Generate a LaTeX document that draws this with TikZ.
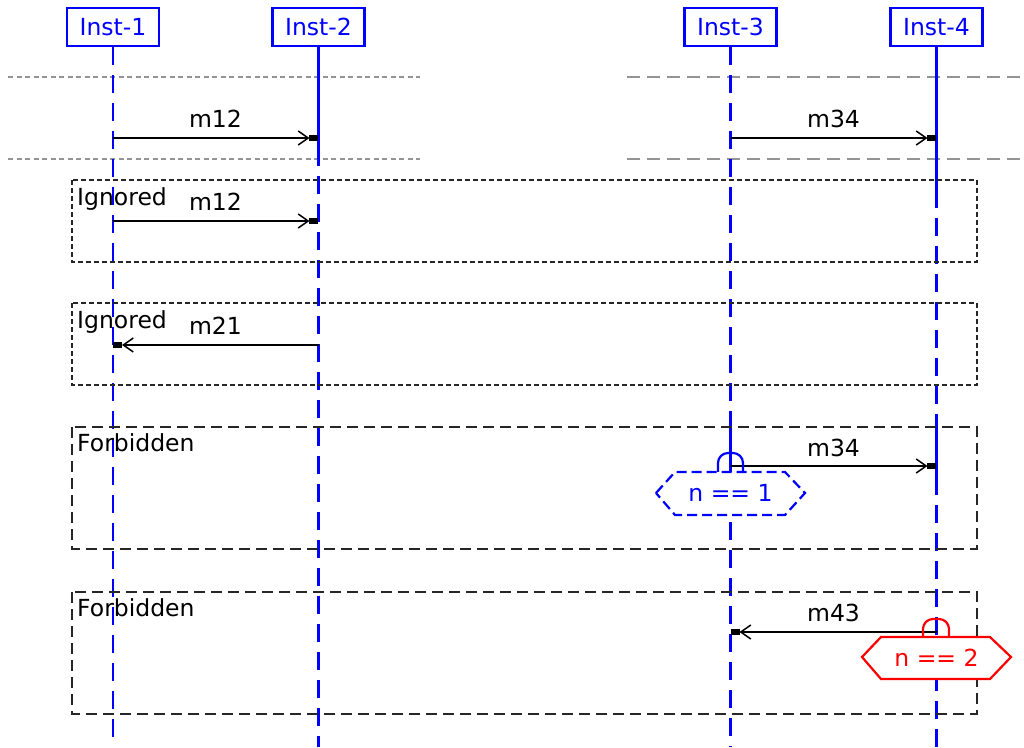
\documentclass[tikz,border=0pt]{standalone}
\usepackage{fontspec}
\setmainfont{DejaVu Sans}
\usetikzlibrary{arrows.meta}
\begin{document}
\begin{tikzpicture}[x=1pt,y=-1pt,
  every node/.style={font=\fontsize{23.5}{27}\selectfont, inner sep=0pt},
  inst/.style={draw=blue, text=blue, line width=2.2pt, minimum width=92pt, minimum height=38pt},
  life/.style={draw=blue, line width=2.1pt, dash pattern=on 18pt off 10pt},
  lifesolid/.style={draw=blue, line width=2.1pt},
  sepfine/.style={draw=black!42, line width=2pt, dash pattern=on 5pt off 3.5pt},
  sepwide/.style={draw=black!42, line width=2pt, dash pattern=on 13pt off 7pt},
  ignbox/.style={draw=black!85, line width=2.2pt, dash pattern=on 5pt off 3pt},
  forbox/.style={draw=black!85, line width=2.2pt, dash pattern=on 11pt off 6pt},
  msg/.style={draw=black, line width=2pt, -{Straight Barb[length=10pt,width=14pt,line width=1.5pt]}, shorten >=9pt},
  sq/.style={fill=black, minimum width=9pt, minimum height=5.5pt},
  lbl/.style={text=black, anchor=base},
  boxlbl/.style={text=black, anchor=base west},
  cond/.style={line width=2.2pt, fill=white},
  hat/.style={line width=2.2pt, rounded corners=10pt},
]
\useasboundingbox[fill=white] (0,0) rectangle (1024,747);

% separators
\draw[sepfine] (8,77) -- (420,77);
\draw[sepfine] (8,159) -- (420,159);
\draw[sepwide] (627,77) -- (1024,77);
\draw[sepwide] (627,159) -- (1024,159);

% instance heads
\node[inst] (i1) at (113,27) {Inst-1};
\node[inst] (i2) at (318.5,27) {Inst-2};
\node[inst] (i3) at (730.5,27) {Inst-3};
\node[inst] (i4) at (936.5,27) {Inst-4};

% lifeline points
\coordinate (e1) at (113,747);
\coordinate (e2) at (318.5,747);
\coordinate (e3) at (730.5,747);
\coordinate (e4) at (936.5,747);
\coordinate (l2a) at (318.5,148);
\coordinate (l4a) at (936.5,190);
\coordinate (l3b) at (730.5,427);
\coordinate (l3c) at (730.5,466);
\coordinate (l4b) at (936.5,427);
\coordinate (l4c) at (936.5,477);

% lifelines
\draw[life] (i1.south) -- (e1);
\draw[lifesolid] (i2.south) -- (l2a);
\draw[life] (l2a) -- (e2);
\draw[life] (i3.south) -- (l3b);
\draw[lifesolid] (l3b) -- (l3c);
\draw[life] (l3c) -- (e3);
\draw[lifesolid] (i4.south) -- (l4a);
\draw[life] (l4a) -- (l4b);
\draw[lifesolid] (l4b) -- (l4c);
\draw[life] (l4c) -- (e4);

% frames
\draw[ignbox] (72,180) rectangle (977,262);
\draw[ignbox] (72,303) rectangle (977,385);
\draw[forbox] (72,427) rectangle (977,549);
\draw[forbox] (72,592) rectangle (977,714);
\node[boxlbl] (b1) at (77,205) {Ignored};
\node[boxlbl] (b2) at (77,328) {Ignored};
\node[boxlbl] (b3) at (77,451) {Forbidden};
\node[boxlbl] (b4) at (77,616) {Forbidden};

% messages
\coordinate (m1s) at (113,138);   \coordinate (m1e) at (318.5,138);
\coordinate (m2s) at (730.5,138); \coordinate (m2e) at (936.5,138);
\coordinate (m3s) at (113,221);   \coordinate (m3e) at (318.5,221);
\coordinate (m4s) at (318.5,345); \coordinate (m4e) at (113,345);
\coordinate (m5s) at (730.5,466); \coordinate (m5e) at (936.5,466);
\coordinate (m6s) at (936.5,632); \coordinate (m6e) at (730.5,632);

\draw[msg] (m1s) -- (m1e); \node[sq,anchor=east] (q1) at (m1e) {};
\draw[msg] (m2s) -- (m2e); \node[sq,anchor=east] (q2) at (m2e) {};
\draw[msg] (m3s) -- (m3e); \node[sq,anchor=east] (q3) at (m3e) {};
\draw[msg] (m4s) -- (m4e); \node[sq,anchor=west] (q4) at (m4e) {};
\draw[msg] (m5s) -- (m5e); \node[sq,anchor=east] (q5) at (m5e) {};
\draw[msg] (m6s) -- (m6e); \node[sq,anchor=west] (q6) at (m6e) {};

\node[lbl] (t1) at (215.5,127) {m12};
\node[lbl] (t2) at (833.5,127) {m34};
\node[lbl] (t3) at (215.5,210) {m12};
\node[lbl] (t4) at (215.5,334) {m21};
\node[lbl] (t5) at (833.5,456) {m34};
\node[lbl] (t6) at (833.5,621) {m43};

% condition n == 1
\draw[hat, draw=blue] (718,472) -- (718,453) -- (743,453) -- (743,472);
\draw[cond, draw=blue, dash pattern=on 10pt off 5pt] (656,493) -- (675,472) -- (785,472) -- (805,493) -- (785,515) -- (675,515) -- cycle;
\node[text=blue] (c1) at (730.5,493) {n == 1};

% condition n == 2
\draw[hat, draw=red] (923,637) -- (923,619) -- (949,619) -- (949,637);
\draw[cond, draw=red] (862,657) -- (881,637) -- (990,637) -- (1011,657) -- (990,679) -- (881,679) -- cycle;
\node[text=red] (c2) at (936.5,658) {n == 2};
\end{tikzpicture}
\end{document}
